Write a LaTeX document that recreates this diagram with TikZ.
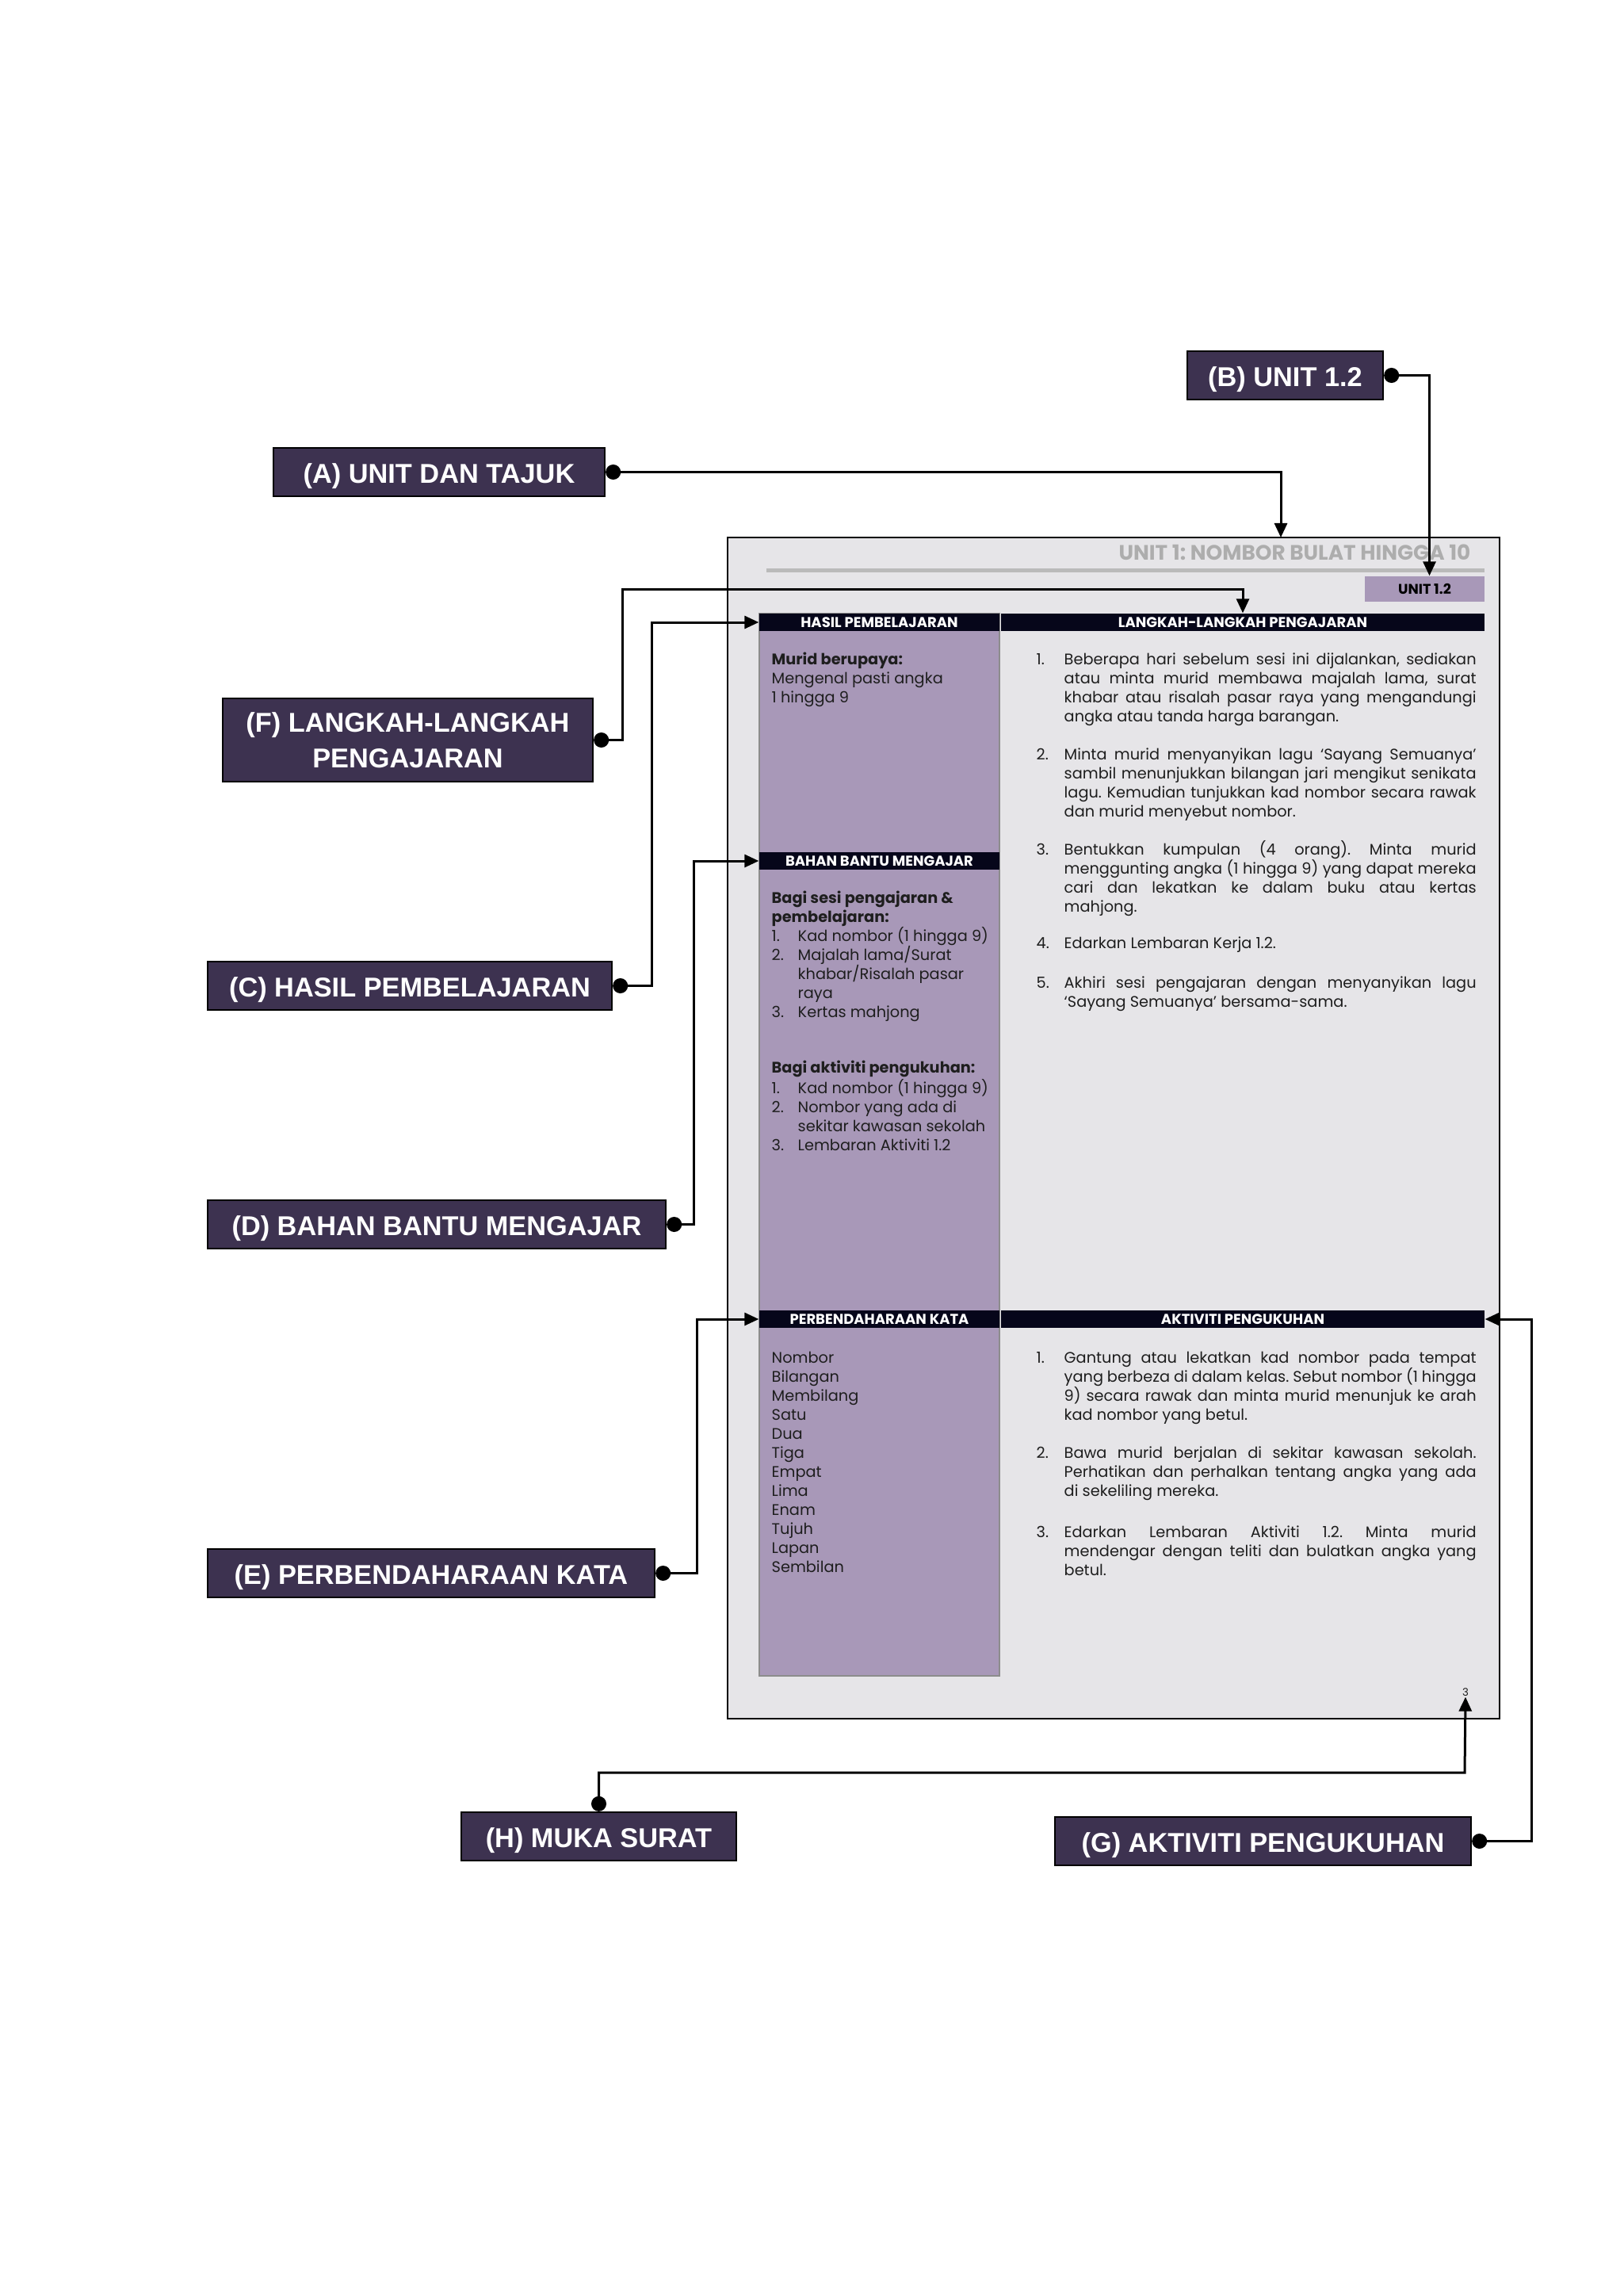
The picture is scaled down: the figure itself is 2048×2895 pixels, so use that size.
\documentclass[tikz,border=0pt]{standalone}
\usepackage{fontspec}
\usetikzlibrary{arrows.meta}
\newfontfamily\lblfam{Liberation Sans}
\newfontfamily\cgfam{Poppins}
\definecolor{lblfill}{HTML}{3D3250}
\definecolor{colfill}{HTML}{A898B8}
\definecolor{pagefill}{HTML}{E6E5E8}
\definecolor{hdrfill}{HTML}{06061A}
\definecolor{titlegray}{HTML}{ADADAD}
\definecolor{rulegray}{HTML}{BABABA}
\definecolor{bodytext}{HTML}{1E1E1E}
\newcommand\JL[1]{\makebox[156pt][s]{#1}}
\newcommand\TL[4]{\node[txt] (#1) at (#2,#3) {#4};}
\newcommand\TB[4]{\node[txt,font=\cgfam\bfseries\fontsize{5.8}{7}\selectfont] (#1) at (#2,#3) {#4};}
\frenchspacing
\begin{document}
\frenchspacing
\begin{tikzpicture}[x=0.3pt,y=-0.3pt,
  lbl/.style={draw=black, line width=0.7pt, fill=lblfill, text=white,
    font=\lblfam\bfseries\fontsize{10.3}{13.5}\selectfont, align=center, inner sep=0pt, minimum height=18.3pt},
  lbl1/.style={lbl, text height=8.3pt, text depth=0pt},
  con/.style={line width=0.9pt, {Circle[length=5.7pt]}-{Triangle[length=5.4pt,width=4.8pt]}},
  hdr/.style={fill=hdrfill, text=white, font=\cgfam\bfseries\fontsize{5.4}{6}\selectfont,
    inner sep=0pt, minimum height=6.6pt},
  txt/.style={font=\cgfam\fontsize{5.8}{7}\selectfont, text=bodytext, inner sep=0pt, anchor=mid west},
]
\useasboundingbox[fill=white] (0,0) rectangle (2048,2895);

% page
\draw[fill=pagefill, line width=0.8pt] (918,678) rectangle (1892,2168);
\node[font=\cgfam\bfseries\fontsize{7.9}{8}\selectfont, text=titlegray, anchor=base east, inner sep=0pt] (title) at (1856,706) {UNIT 1: NOMBOR BULAT HINGGA 10};
\draw[rulegray, line width=1.5pt] (967,720) -- (1873,720);
\node[fill=colfill, minimum width=45.3pt, minimum height=9.6pt, inner sep=0pt,
  font=\cgfam\bfseries\fontsize{5.3}{6}\selectfont] (u12) at (1797.5,743) {UNIT 1.2};

% left column
\draw[fill=colfill, draw=black!45, line width=0.6pt] (958,774) rectangle (1261,2114);

% headers
\node[hdr, minimum width=90.9pt] (hdrL) at (1109.5,785) {HASIL PEMBELAJARAN};
\node[hdr, minimum width=183pt] (hdrR) at (1568,785) {LANGKAH-LANGKAH PENGAJARAN};
\node[hdr, minimum width=90.9pt] (hdrB) at (1109.5,1086) {BAHAN BANTU MENGAJAR};
\node[hdr, minimum width=90.9pt] (hdrV) at (1109.5,1664) {PERBENDAHARAAN KATA};
\node[hdr, minimum width=183pt] (hdrA) at (1568,1664) {AKTIVITI PENGUKUHAN};

% left column text
\TB{h1}{973}{831}{Murid berupaya:}
\TL{h2}{973}{855}{Mengenal pasti angka}
\TL{h3}{973}{879}{1 hingga 9}

\TB{b1}{973}{1132}{Bagi sesi pengajaran \&}
\TB{b2}{973}{1156}{pembelajaran:}
\TL{b3n}{973}{1180}{1.}
\TL{b3}{1006}{1180}{Kad nombor (1 hingga 9)}
\TL{b4n}{973}{1204}{2.}
\TL{b4}{1006}{1204}{Majalah lama/Surat}
\TL{b5}{1006}{1228}{khabar/Risalah pasar}
\TL{b6}{1006}{1252}{raya}
\TL{b7n}{973}{1276}{3.}
\TL{b7}{1006}{1276}{Kertas mahjong}

\TB{k1}{973}{1346}{Bagi aktiviti pengukuhan:}
\TL{k2n}{973}{1372}{1.}
\TL{k2}{1006}{1372}{Kad nombor (1 hingga 9)}
\TL{k3n}{973}{1396}{2.}
\TL{k3}{1006}{1396}{Nombor yang ada di}
\TL{k4}{1006}{1420}{sekitar kawasan sekolah}
\TL{k5n}{973}{1444}{3.}
\TL{k5}{1006}{1444}{Lembaran Aktiviti 1.2}

\TL{v1}{973}{1712}{Nombor}
\TL{v2}{973}{1736}{Bilangan}
\TL{v3}{973}{1760}{Membilang}
\TL{v4}{973}{1784}{Satu}
\TL{v5}{973}{1808}{Dua}
\TL{v6}{973}{1832}{Tiga}
\TL{v7}{973}{1856}{Empat}
\TL{v8}{973}{1880}{Lima}
\TL{v9}{973}{1904}{Enam}
\TL{v10}{973}{1928}{Tujuh}
\TL{v11}{973}{1952}{Lapan}
\TL{v12}{973}{1976}{Sembilan}

% right column: langkah
\TL{s1n}{1307}{831}{1.}
\TL{s1a}{1342}{831}{\JL{Beberapa hari sebelum sesi ini dijalankan, sediakan}}
\TL{s1b}{1342}{855}{\JL{atau minta murid membawa majalah lama, surat}}
\TL{s1c}{1342}{879}{\JL{khabar atau risalah pasar raya yang mengandungi}}
\TL{s1d}{1342}{903}{angka atau tanda harga barangan.}
\TL{s2n}{1307}{951}{2.}
\TL{s2a}{1342}{951}{\JL{Minta murid menyanyikan lagu ‘Sayang Semuanya’}}
\TL{s2b}{1342}{975}{\JL{sambil menunjukkan bilangan jari mengikut senikata}}
\TL{s2c}{1342}{999}{\JL{lagu. Kemudian tunjukkan kad nombor secara rawak}}
\TL{s2d}{1342}{1023}{dan murid menyebut nombor.}
\TL{s3n}{1307}{1071}{3.}
\TL{s3a}{1342}{1071}{\JL{Bentukkan kumpulan (4 orang). Minta murid}}
\TL{s3b}{1342}{1095}{\JL{menggunting angka (1 hingga 9) yang dapat mereka}}
\TL{s3c}{1342}{1119}{\JL{cari dan lekatkan ke dalam buku atau kertas}}
\TL{s3d}{1342}{1143}{mahjong.}
\TL{s4n}{1307}{1189}{4.}
\TL{s4a}{1342}{1189}{Edarkan Lembaran Kerja 1.2.}
\TL{s5n}{1307}{1239}{5.}
\TL{s5a}{1342}{1239}{\JL{Akhiri sesi pengajaran dengan menyanyikan lagu}}
\TL{s5b}{1342}{1263}{‘Sayang Semuanya’ bersama-sama.}

% right column: aktiviti
\TL{a1n}{1307}{1712}{1.}
\TL{a1a}{1342}{1712}{\JL{Gantung atau lekatkan kad nombor pada tempat}}
\TL{a1b}{1342}{1736}{\JL{yang berbeza di dalam kelas. Sebut nombor (1 hingga}}
\TL{a1c}{1342}{1760}{\JL{9) secara rawak dan minta murid menunjuk ke arah}}
\TL{a1d}{1342}{1784}{kad nombor yang betul.}
\TL{a2n}{1307}{1832}{2.}
\TL{a2a}{1342}{1832}{\JL{Bawa murid berjalan di sekitar kawasan sekolah.}}
\TL{a2b}{1342}{1856}{\JL{Perhatikan dan perhalkan tentang angka yang ada}}
\TL{a2c}{1342}{1880}{di sekeliling mereka.}
\TL{a3n}{1307}{1932}{3.}
\TL{a3a}{1342}{1932}{\JL{Edarkan Lembaran Aktiviti 1.2. Minta murid}}
\TL{a3b}{1342}{1956}{\JL{mendengar dengan teliti dan bulatkan angka yang}}
\TL{a3c}{1342}{1980}{betul.}

\node[font=\cgfam\fontsize{4}{5}\selectfont, text=bodytext, inner sep=0pt] (pnum) at (1849,2135) {3};

% label boxes
\node[lbl1, minimum width=125.4pt] (A) at (554,595.5) {(A) UNIT DAN TAJUK};
\node[lbl1, minimum width=74.1pt] (B) at (1621.5,473.5) {(B) UNIT 1.2};
\node[lbl, minimum width=140.1pt, minimum height=31.5pt] (F) at (514.5,933.5) {(F) LANGKAH-LANGKAH\\PENGAJARAN};
\node[lbl1, minimum width=153pt] (C) at (517,1243.5) {(C) HASIL PEMBELAJARAN};
\node[lbl1, minimum width=173.4pt] (D) at (551,1544.5) {(D) BAHAN BANTU MENGAJAR};
\node[lbl1, minimum width=169.2pt] (E) at (544,1984.5) {(E) PERBENDAHARAAN KATA};
\node[lbl1, minimum width=104.1pt] (H) at (755.5,2316.5) {(H) MUKA SURAT};
\node[lbl1, minimum width=157.5pt] (G) at (1593.5,2322.5) {(G) AKTIVITI PENGUKUHAN};

% connector bends and targets
\coordinate (tA) at (1616,678);
\coordinate (tB) at ([xshift=1.8pt]u12.north);
\coordinate (fF) at (785,744);
\coordinate (fC) at (822,785);
\coordinate (fD) at (875,1086);
\coordinate (fE) at (879,1664);
\coordinate (fG) at (1932,1664);
\coordinate (fH) at (1848,2236);

% connectors
\draw[con] (A.east) -| (tA);
\draw[con] (B.east) -| (tB);
\draw[con] (F.east) -| (fF) -| (hdrR.north);
\draw[con] (C.east) -| (fC) -- (hdrL.west);
\draw[con] (D.east) -| (fD) -- (hdrB.west);
\draw[con] (E.east) -| (fE) -- (hdrV.west);
\draw[con] (G.east) -| (fG) -- (hdrA.east);
\draw[con] (H.north) |- (fH) -- (pnum.south);
\end{tikzpicture}
\end{document}
